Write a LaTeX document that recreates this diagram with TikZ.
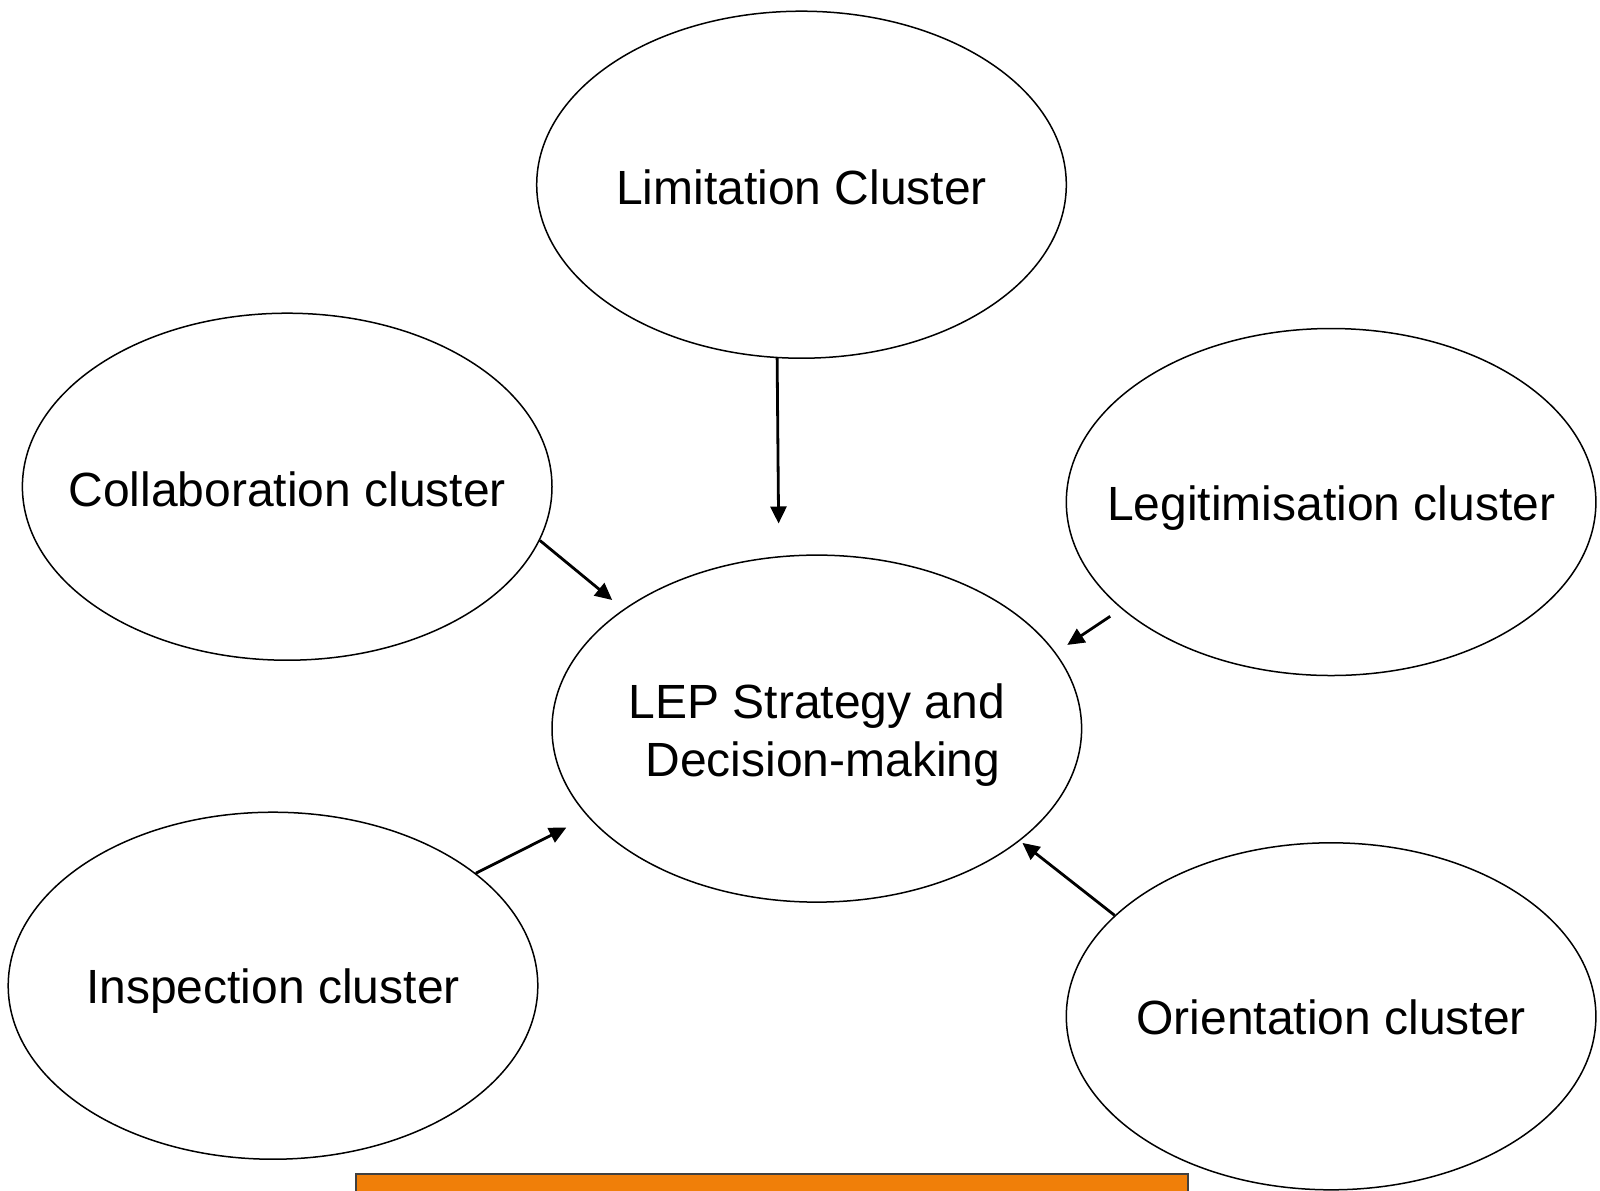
\documentclass[tikz,border=0pt]{standalone}
\usepackage{fontspec}
\setmainfont{Liberation Sans}
\usetikzlibrary{shapes.geometric,arrows.meta}
\definecolor{boxorange}{HTML}{F07F09}
\begin{document}
\begin{tikzpicture}[x=0.5pt,y=-0.5pt,
  cluster/.style={ellipse,draw,line width=0.75pt,minimum width=264.8pt,minimum height=173.5pt,inner sep=0pt},
  lbl/.style={font=\fontsize{24}{29}\selectfont,align=center,yshift=-1.5pt},
  arr/.style={line width=1.4pt,-{Triangle[length=8.5pt,width=8pt]}}]
\useasboundingbox (0,0) rectangle (1600,1190);
\node[cluster,label={[lbl]center:Limitation Cluster}] (lim) at (801.5,184.7) {};
\node[cluster,label={[lbl]center:Collaboration cluster}] (col) at (287.2,486.7) {};
\node[cluster,label={[lbl,yshift=-1.5pt]center:Legitimisation cluster}] (leg) at (1331.1,502) {};
\node[cluster,label={[lbl,yshift=-1.5pt]center:{LEP Strategy and\\ \hspace{6pt}Decision-making}}] (lep) at (816.8,728.6) {};
\node[cluster,label={[lbl,yshift=-1pt]center:Inspection cluster}] (ins) at (273,985.7) {};
\node[cluster,label={[lbl,yshift=1pt]center:Orientation cluster}] (ori) at (1331.1,1016.3) {};
\coordinate (limEnd) at (778.6,523.5);
\coordinate (colEnd) at (612.2,600);
\coordinate (legEnd) at (1067.3,644.9);
\coordinate (insEnd) at (566.3,827.6);
\coordinate (oriEnd) at (1022.4,842.9);
\draw[arr] (lim.262.5) -- (limEnd);
\draw[arr] (col.-12.2) -- (colEnd);
\draw[arr,shorten <=6.7pt] (leg.207.6) -- (legEnd);
\draw[arr] (ins.29.3) -- (insEnd);
\draw[arr] (ori.155.5) -- (oriEnd);
\draw[fill=boxorange,draw=black!75,line width=0.75pt] (356,1174) rectangle (1188,1200);
\end{tikzpicture}
\end{document}
